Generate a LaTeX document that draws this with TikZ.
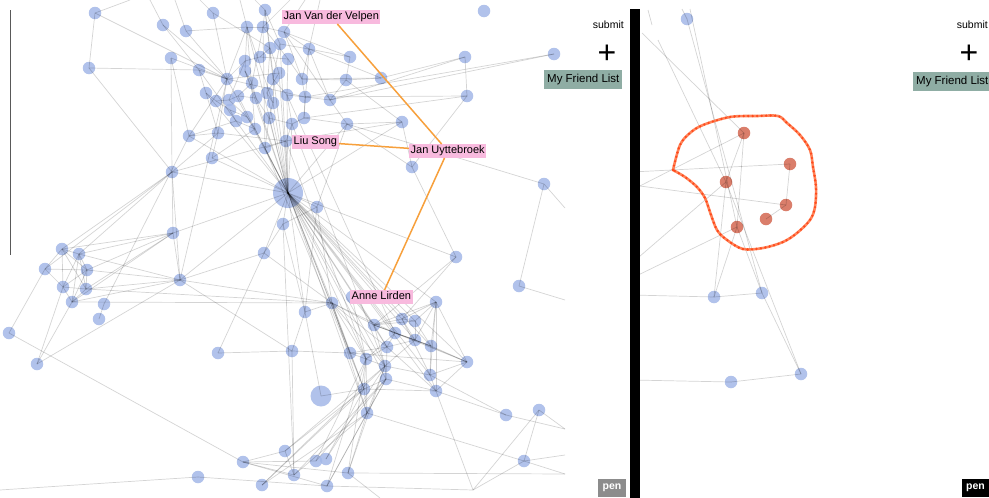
\documentclass[tikz,border=0pt]{standalone}
\usepackage{fontspec}
\setmainfont{Liberation Sans}
\definecolor{nodeblue}{RGB}{164,184,232}
\definecolor{nodered}{RGB}{214,112,92}
\definecolor{lassoc}{RGB}{255,92,35}
\definecolor{orangeedge}{RGB}{247,160,60}
\definecolor{pinklab}{RGB}{248,186,222}
\definecolor{friend}{RGB}{143,173,164}
\definecolor{pengray}{RGB}{140,140,140}
\begin{document}
\begin{tikzpicture}[x=1pt,y=-1pt,
  vnode/.style={circle,fill=nodeblue,fill opacity=0.85,minimum size=12.5pt,inner sep=0pt},
  hubnode/.style={vnode,minimum size=30pt},
  bignode/.style={vnode,minimum size=21pt},
  rnode/.style={circle,fill=nodered,fill opacity=0.9,minimum size=12.5pt,inner sep=0pt},
  edge/.style={draw=black,draw opacity=0.17,line width=0.7pt},
  oedge/.style={draw=orangeedge,line width=1.5pt},
  namelab/.style={fill=pinklab,inner sep=1.5pt,font=\fontsize{11}{11}\selectfont,text height=8pt,text depth=2.5pt,anchor=west},
  friendbox/.style={fill=friend,inner xsep=3pt,inner ysep=4pt,font=\fontsize{11.5}{11.5}\selectfont,text height=8.5pt,text depth=2.5pt,anchor=west},
  penbox/.style={text=white,font=\bfseries\fontsize{10.5}{10.5}\selectfont,minimum width=28pt,minimum height=18pt,inner sep=0pt},
  smalltext/.style={font=\fontsize{10.5}{10.5}\selectfont,anchor=east,inner sep=0pt},
  plustext/.style={font=\fontsize{32}{32}\selectfont,anchor=base,inner sep=0pt}
]
\useasboundingbox (0,0) rectangle (989,498);
\fill[white] (0,0) rectangle (989,498);

% ---------- blue nodes ----------
\foreach \n/\x/\y in {
 a1/95/13,a2/163/25,a3/186/31,a4/213/13,a5/247/27,a6/263/27,a7/265/10,a8/284/32,
 a9/89/68,a10/171/58,a11/199/70,a12/227/79,a13/245/61,a14/245/71,a15/260/57,a16/270/48,
 a17/280/44,a18/288/59,a19/309/49,a20/252/83,a21/273/79,a22/279/73,a23/302/79,a24/206/93,
 a25/216/101,a26/229/100,a27/238/96,a28/230/110,a29/256/98,a30/267/93,a31/287/95,a32/305/97,
 a33/273/103,a34/330/100,a35/236/121,a36/247/117,a37/269/118,a38/292/124,a39/304/118,a40/255/129,
 a41/189/136,a42/218/133,a43/265/148,a44/286/141,a45/212/158,a46/172/172,a47/317/207,a48/283/224,
 a49/173/233,a50/350/57,a51/346/80,a52/381/78,a53/465/57,a54/554/54,a55/467/96,a56/347/124,
 a57/402/122,a58/412/167,a59/544/184,a60/484/11,
 b1/62/249,b2/79/254,b3/45/269,b4/87/270,b5/63/287,b6/86/289,b7/72/302,b8/104/304,
 b9/99/319,b10/9/333,b11/37/364,b12/180/280,b13/264/253,b14/218/353,b15/292/351,b16/305/312,
 c0/352/297,c1/332/303,c2/436/302,c3/374/325,c4/402/319,c5/415/321,c6/395/333,c7/415/340,c8/431/346,
 c9/387/347,c10/350/353,c11/366/359,c12/467/362,c13/385/366,c14/386/379,c15/430/375,
 c16/436/391,c17/364/389,c18/367/413,c19/456/257,c20/519/286,c21/506/415,c22/539/410,c23/524/461,
 d1/285/451,d2/243/462,d3/316/461,d4/326/459,d5/294/475,d6/348/473,d7/198/477,d8/262/485,d9/327/486,
 r0/687/19,r7/714/297,r8/762/293,r9/731/382,r10/801/374}
 \node[vnode] (\n) at (\x,\y) {};
\node[hubnode] (H) at (288,193) {};
\node[bignode] (G) at (321,396) {};

% ---------- red selected nodes ----------
\foreach \n/\x/\y in {r1/744/133,r2/790/164,r3/726/182,r4/786/205,r5/766/219,r6/737/227}
 \node[rnode] (\n) at (\x,\y) {};

% ---------- free ends of edges leaving the frame ----------
\foreach \n/\x/\y in {
 o1/565/208,o2/565/300,o3/565/429,o4/565/455,o5/565/474,o6/0/490,o7/380/498,o8/473/490,
 t1/130/0,t2/150/0,t3/175/0,t4/240/0,t5/255/0,t6/290/0,t7/305/0,t8/200/0,t9/320/0,
 q1/682/9,q2/690/9,q3/642/33,q4/658/40,q5/632/172,q6/632/185,q7/632/190,q8/632/263,
 q9/632/278,q10/632/295,q11/632/380,q12/648/10,q13/652/25}
 \coordinate (\n) at (\x,\y);

% ---------- grey edges ----------
\foreach \a/\b in {
 a1/a9,a1/a12,a1/t1,a2/a11,a2/a12,a2/t2,a3/a12,a3/a5,a3/t3,a4/a12,a4/a16,a4/t8,
 a5/a6,a5/a12,a5/a14,a5/a33,a5/a40,a5/t4,a6/a7,a6/a8,a6/a18,a6/a20,a6/a43,a6/t6,
 a7/a17,a7/H,a7/a21,a7/t5,a8/a19,a8/a23,a8/a34,a8/t7,a9/a11,a9/a46,a10/a41,a10/a46,a10/a12,
 a11/a12,a11/a35,a11/a24,a12/a13,a12/a22,a12/H,a12/a41,a12/a42,a12/a32,a13/a15,a13/a26,
 a14/a20,a14/a29,a15/a18,a15/a16,a16/a22,a16/a30,a17/a19,a17/a21,a18/a23,a18/a31,
 a19/a23,a19/a39,a19/a34,a19/t9,a20/a29,a20/a27,a21/a31,a21/a33,a22/a30,a23/a32,a23/a51,
 a24/a25,a24/a42,a25/a28,a25/a26,a26/a27,a26/a36,a27/a29,a28/a35,a28/a36,a29/a37,
 a30/a33,a31/a38,a31/a32,a32/a34,a32/a39,a33/a37,a34/a51,a34/a56,a35/a40,a35/a41,
 a36/a40,a37/a38,a37/a43,a38/a44,a38/a39,a39/a56,a40/a45,a41/a42,a42/a44,a42/a45,
 a43/a44,a43/H,a44/H,a46/a44,a46/a42,a49/a46,
 H/a40,H/a37,H/a38,H/a33,H/a31,H/a30,H/a22,H/a17,H/a14,H/a47,H/a48,H/a45,H/a46,H/a49,
 H/b12,H/b13,H/a56,H/a57,H/c19,H/c1,H/c3,H/c6,H/c9,H/c10,H/c11,H/c13,H/c14,H/c17,H/c18,
 H/c8,H/c12,H/c15,H/c16,H/c2,H/c7,H/c5,H/c4,H/a35,H/a24,H/a41,H/a29,H/a27,H/a5,H/b16,
 a47/a48,a47/a56,a47/c1,a48/b13,a48/b16,a48/d5,a50/a19,a50/a51,a50/a8,a51/a52,a51/a57,
 a52/a53,a52/a19,a52/a23,a53/a55,a53/a34,a54/a34,a54/a32,a55/a58,a55/a39,a55/a32,
 a56/a57,a56/a59,a56/a58,a57/a58,a57/a44,a58/c19,a59/c20,a59/o1,
 b1/b2,b1/b3,b1/b4,b1/b5,b1/b6,b2/b4,b2/b5,b2/b6,b3/b4,b3/b5,b4/b5,b4/b6,b4/b7,
 b5/b6,b5/b7,b6/b7,b2/b7,b1/a49,b2/a49,b4/a49,b6/a49,b7/a49,b1/a46,b3/a46,b2/a46,
 b2/b12,b4/b12,b6/b12,b7/b12,b12/c1,b12/a49,b12/b13,b12/b15,b12/a46,b12/a12,
 b3/b10,b10/d2,b11/b5,b11/b7,b11/b12,b8/a41,b9/b8,b13/b14,b13/c1,b14/b15,b15/b16,
 b15/d5,b15/c10,b16/G,b16/c1,b16/a47,G/c17,b6/c1,b7/c1,
 c1/c3,c1/c6,c1/c9,c1/c10,c1/c11,c1/c13,c1/c17,c1/c18,c3/c4,c3/c5,c3/c6,c3/c7,c3/c9,
 c3/c8,c3/c13,c4/c5,c4/c7,c4/c15,c5/c8,c5/c7,c6/c7,c6/c8,c6/c9,c6/c11,c6/c12,c7/c8,
 c7/c9,c7/c12,c7/c13,c8/c12,c8/c15,c9/c10,c9/c11,c9/c14,c9/c16,c10/c11,c10/c12,
 c11/c13,c11/c17,c12/c15,c12/c16,c13/c14,c13/c15,c14/c16,c14/c17,c15/c16,c16/c17,
 c17/c18,c11/c18,c13/c18,c14/c18,c2/c5,c2/c8,c2/c7,c2/c12,c2/c15,c2/c16,c2/c4,c2/c3,
 c19/c3,c19/c4,c20/o2,c16/c21,c15/c21,c16/o8,o8/c23,o8/c22,c22/c23,c22/o3,c23/o4,
 c23/o5,c18/c23,c21/o3,c0/c3,c0/c11,
 d1/d2,d1/c17,d1/c13,d1/d5,d2/d3,d2/d5,d2/d6,d2/d9,d3/c14,d3/c11,d4/c13,d4/c17,
 d5/c18,d5/c14,d6/c18,d6/c11,d6/c13,d6/o7,d6/o5,d8/c17,d8/c18,d8/c13,d9/c14,d9/c18,
 d9/c11,d7/d9,d7/o6,d9/o8,a43/c17,a44/c11,a38/c13,a31/c6,
 q1/r0,r0/r8,q2/r6,q3/r1,q4/r3,q5/r2,q6/r4,q7/r1,q8/r3,q9/r6,q10/r7,q11/r9,q12/q13,
 r1/r6,r1/r3,r2/r4,r4/r5,r3/r7,r6/r7,r6/r8,r3/r10,r7/r8,r8/r10,r9/r10}
 \draw[edge] (\a.center) -- (\b.center);

% ---------- panel frame elements ----------
\draw[black!65,line width=1pt] (10,10) -- (10,255);
\fill[black] (630,9) rectangle (640,498);

% ---------- lasso ----------
\draw[lassoc,opacity=0.75,line width=2.6pt,line join=round,line cap=round]
 plot[smooth,tension=0.55] coordinates {(673,170) (680,145) (690,133) (703,125) (730,117)
 (757,116) (778,116) (787,123) (800,135) (810,150) (813,167) (816,187) (815,207)
 (810,220) (797,233) (783,242) (763,248) (743,249) (727,240) (717,230) (710,212)
 (705,198) (697,187) (685,177) (673,170)};
\draw[lassoc!80!red,line width=2.6pt,line cap=round,dash pattern=on 0pt off 4.5pt]
 plot[smooth,tension=0.55] coordinates {(673,170) (680,145) (690,133) (703,125) (730,117)
 (757,116) (778,116) (787,123) (800,135) (810,150) (813,167) (816,187) (815,207)
 (810,220) (797,233) (783,242) (763,248) (743,249) (727,240) (717,230) (710,212)
 (705,198) (697,187) (685,177) (673,170)};

% ---------- name labels and orange edges ----------
\node[namelab] (jv) at (282,17) {Jan Van der Velpen};
\node[namelab] (ls) at (292,142) {Liu Song};
\node[namelab] (ju) at (409,151) {Jan Uyttebroek};
\node[namelab] (al) at (350,297) {Anne Lirden};
\draw[oedge] (jv) -- (ju);
\draw[oedge] (ls) -- (ju);
\draw[oedge] (ju) -- (al);

% ---------- controls ----------
\node[smalltext] (sub1) at (624,25) {submit};
\node[smalltext] (sub2) at (988,25) {submit};
\node[plustext] (plus1) at (607,63) {+};
\node[plustext] (plus2) at (969,63) {+};
\node[friendbox] (fl1) at (544,79) {My Friend List};
\node[friendbox] (fl2) at (913,81) {My Friend List};
\node[penbox,fill=pengray] (pen1) at (612,488) {pen};
\node[penbox,fill=black] (pen2) at (975.5,488) {pen};
\end{tikzpicture}
\end{document}
